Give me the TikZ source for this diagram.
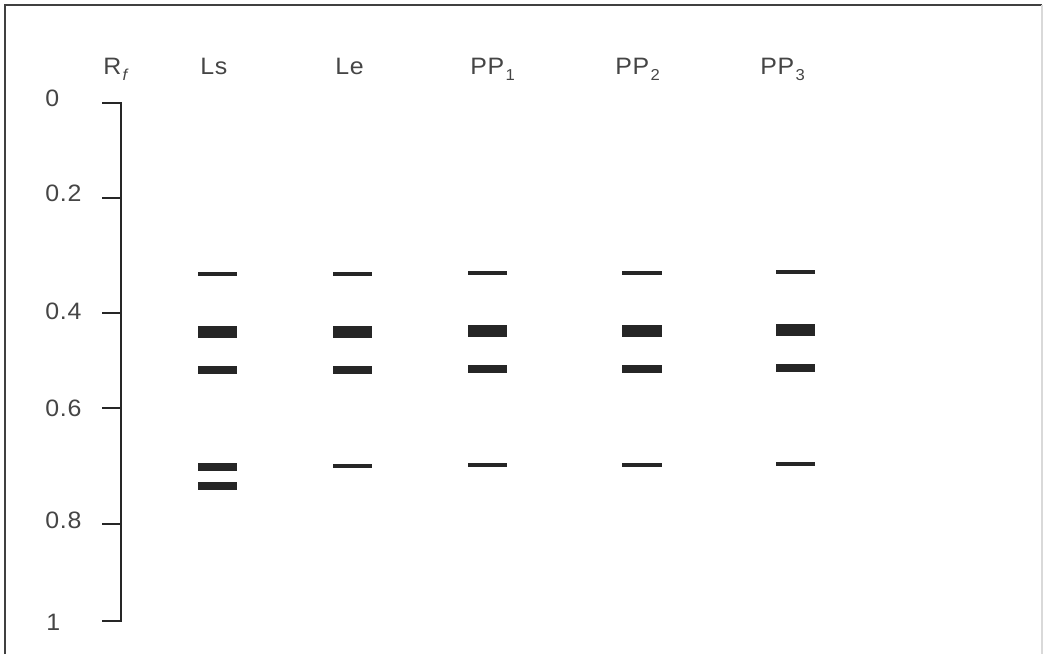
\documentclass[tikz,border=0pt]{standalone}
\usepackage{fontspec}
\setmainfont{Liberation Sans}[FakeStretch=1.05, LetterSpace=3]
\definecolor{inkgray}{HTML}{454545}
\definecolor{bandgray}{HTML}{262626}
\newcommand{\lowsub}[1]{\kern0.8pt\raisebox{-0.5ex}{\fontsize{9}{9}\selectfont #1}}
\tikzset{
  lbl/.style={inner sep=0pt, text=inkgray, font=\fontsize{13.5}{15}\selectfont},
  axisline/.style={draw=bandgray, line width=1.1pt},
  band/.style={fill=bandgray}
}
\begin{document}
\begin{tikzpicture}[x=0.02cm, y=-0.02cm]
  \useasboundingbox (0,0) rectangle (1044,654);
  % çerçeve
  \draw[line width=1.1pt, draw=black!75] (5,654) -- (5,5) -- (1042,5);
  \draw[line width=0.6pt, draw=black!15] (1042,5) -- (1042,654);
  % sütun başlıkları
  \node[lbl, anchor=base west] (rf)  at (103,74) {R\lowsub{\itshape f}};
  \node[lbl, anchor=base west] (ls)  at (200,74) {Ls};
  \node[lbl, anchor=base west] (le)  at (335,74) {Le};
  \node[lbl, anchor=base west] (pp1) at (470,74) {PP\lowsub{1}};
  \node[lbl, anchor=base west] (pp2) at (615,74) {PP\lowsub{2}};
  \node[lbl, anchor=base west] (pp3) at (760,74) {PP\lowsub{3}};
  % Rf ekseni
  \coordinate (top) at (121,103);
  \coordinate (bot) at (121,621);
  \draw[axisline] (102,103) -- (top) -- (bot) -- (102,621);
  \foreach \y in {198,313,408,524}
    \draw[axisline] (102,\y) -- (121,\y);
  % eksen değerleri
  \node[lbl, anchor=base west] (r0)  at (45,106) {0};
  \node[lbl, anchor=base west] (r2)  at (45,201) {0.2};
  \node[lbl, anchor=base west] (r4)  at (45,319) {0.4};
  \node[lbl, anchor=base west] (r6)  at (45,416) {0.6};
  \node[lbl, anchor=base west] (r8)  at (45,528) {0.8};
  \node[lbl, anchor=base west] (r10) at (46,630) {1};
  % Ls bantları
  \fill[band] (198,272) rectangle (237,276);
  \fill[band] (198,326) rectangle (237,338);
  \fill[band] (198,366) rectangle (237,374);
  \fill[band] (198,463) rectangle (237,471);
  \fill[band] (198,482) rectangle (237,490);
  % Le bantları
  \fill[band] (333,272) rectangle (372,276);
  \fill[band] (333,326) rectangle (372,338);
  \fill[band] (333,366) rectangle (372,374);
  \fill[band] (333,464) rectangle (372,468);
  % PP1 bantları
  \fill[band] (468,271) rectangle (507,275);
  \fill[band] (468,325) rectangle (507,337);
  \fill[band] (468,365) rectangle (507,373);
  \fill[band] (468,463) rectangle (507,467);
  % PP2 bantları
  \fill[band] (622,270.5) rectangle (662,274.5);
  \fill[band] (622,325) rectangle (662,337);
  \fill[band] (622,364.5) rectangle (662,372.5);
  \fill[band] (622,463) rectangle (662,467);
  % PP3 bantları
  \fill[band] (776,270) rectangle (815,274);
  \fill[band] (776,324) rectangle (815,336);
  \fill[band] (776,364) rectangle (815,372);
  \fill[band] (776,462) rectangle (815,466);
\end{tikzpicture}
\end{document}
